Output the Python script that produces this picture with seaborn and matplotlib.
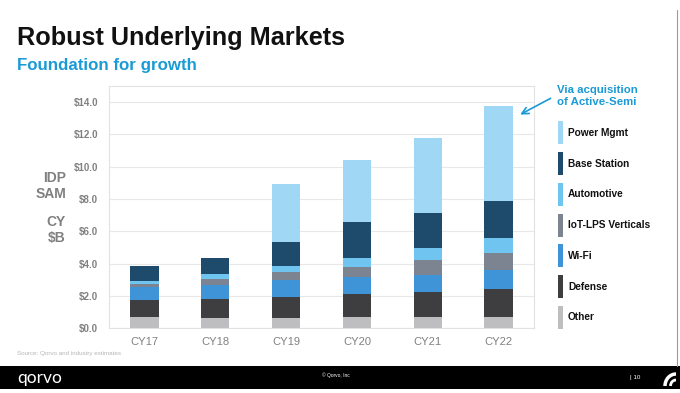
import matplotlib
matplotlib.use("Agg")
import matplotlib.pyplot as plt
import matplotlib.patches as mpatches
import pandas as pd
import seaborn as sns


years = ["CY17", "CY18", "CY19", "CY20", "CY21", "CY22"]
segments = ["Other", "Defense", "Wi-Fi", "IoT-LPS Verticals", "Automotive", "Base Station", "Power Mgmt"]

other = [0.68, 0.62, 0.64, 0.68, 0.72, 0.72]
defense = [1.07, 1.18, 1.28, 1.43, 1.51, 1.70]
wifi = [0.79, 0.88, 1.05, 1.05, 1.07, 1.19]
iot = [0.20, 0.37, 0.50, 0.66, 0.91, 1.07]
automotive = [0.17, 0.31, 0.39, 0.55, 0.75, 0.91]
base_station = [0.97, 0.98, 1.49, 2.20, 2.20, 2.32]
power_mgmt = [0.00, 0.00, 3.59, 3.86, 4.61, 5.88]

colors = {
    "Other": "#bebec0",
    "Defense": "#3e3e41",
    "Wi-Fi": "#3f94d8",
    "IoT-LPS Verticals": "#7c8492",
    "Automotive": "#6fc4f0",
    "Base Station": "#1e4b6c",
    "Power Mgmt": "#a0d7f5",
}

y_ticks = [0, 2, 4, 6, 8, 10, 12, 14]

GREY = "#808080"
BLUE = "#1a9ad6"
W, H = 680, 393


def px(x, y):
    # pixel coords (top-left origin) -> figure fraction
    return x / W, 1 - y / H


df = pd.DataFrame(
    {
        "year": years,
        "Other": other,
        "Defense": defense,
        "Wi-Fi": wifi,
        "IoT-LPS Verticals": iot,
        "Automotive": automotive,
        "Base Station": base_station,
        "Power Mgmt": power_mgmt,
    }
)
cum = df[segments].cumsum(axis=1)
cum["year"] = df["year"]

sns.set_theme(style="white")
plt.rcParams["font.family"] = ["Liberation Sans", "DejaVu Sans"]

fig = plt.figure(figsize=(6.8, 3.93), dpi=100)
ax = fig.add_axes([109 / W, 1 - 328.3 / H, (534 - 109) / W, (328.3 - 86) / H])

# stacked bars: draw cumulative totals from the top segment down
for seg in reversed(segments):
    sns.barplot(data=cum, x="year", y=seg, order=years, color=colors[seg],
                width=0.4, saturation=1, ax=ax, linewidth=0)

ax.set_xlim(-0.5, 5.5)
ax.set_ylim(0, 15)
ax.set_yticks(y_ticks)
ax.set_yticklabels([f"${v:.1f}" for v in y_ticks], fontsize=7, fontweight="bold", color=GREY)
ax.tick_params(axis="x", length=0, pad=6, labelsize=8, labelcolor=GREY)
ax.tick_params(axis="y", length=0, pad=8)
ax.set_xlabel("")
ax.set_ylabel("")
ax.grid(axis="y", color="#e8e8e8", linewidth=0.8)
ax.set_axisbelow(True)
for sp in ax.spines.values():
    sp.set_color("#e2e2e2")
    sp.set_linewidth(0.8)

# left axis caption
fig.text(*px(66, 186), "IDP\nSAM", ha="right", va="center", fontsize=10,
         fontweight="bold", color=GREY, linespacing=1.15)
fig.text(*px(66, 230), "CY\n$B", ha="right", va="center", fontsize=10,
         fontweight="bold", color=GREY, linespacing=1.15)

# titles
fig.text(*px(17, 45), "Robust Underlying Markets", ha="left", va="baseline",
         fontsize=18.2, fontweight="bold", color="#111111")
fig.text(*px(17, 70), "Foundation for growth", ha="left", va="baseline",
         fontsize=12.2, fontweight="bold", color=BLUE)

# annotation
fig.text(*px(557, 96), "Via acquisition\nof Active-Semi", ha="left", va="center",
         fontsize=8.2, fontweight="bold", color=BLUE, linespacing=1.2)
ax.annotate("", xy=(5.27, 13.15), xytext=px(553, 97), textcoords="figure fraction",
            arrowprops=dict(arrowstyle="->", color=BLUE, lw=1.2))

# legend
legend_rows = ["Power Mgmt", "Base Station", "Automotive", "IoT-LPS Verticals", "Wi-Fi", "Defense", "Other"]
for i, seg in enumerate(legend_rows):
    yc = 133 + i * 30.7
    x0, y0 = px(558, yc + 11.5)
    fig.patches.append(mpatches.Rectangle((x0, y0), 4.5 / W, 23 / H, transform=fig.transFigure,
                                          facecolor=colors[seg], edgecolor="none"))
    fig.text(*px(568, yc), seg, ha="left", va="center", fontsize=7.3,
             fontweight="bold", color="#111111")

# source
fig.text(*px(17, 353), "Source: Qorvo and industry estimates", ha="left", va="center",
         fontsize=4.5, color="#b5b5b5")

# slide frame line on the right
fig.add_artist(plt.Line2D([677 / W, 677 / W], [1 - 366 / H, 1 - 10 / H], transform=fig.transFigure,
                          color="#9a9a9a", linewidth=0.8))

# footer
x0, y0 = px(0, 389)
fig.patches.append(mpatches.Rectangle((x0, y0), 1, 23 / H, transform=fig.transFigure,
                                      facecolor="black", edgecolor="none"))
fig.text(*px(17, 378), "qorvo", ha="left", va="center", fontsize=12.5, color="white",
         family=["Lato", "DejaVu Sans"])
fig.text(*px(336, 375), "© Qorvo, Inc", ha="center", va="center", fontsize=3.5, color="white")
fig.text(*px(630, 378), "| 10", ha="left", va="center", fontsize=4.5, color="white")
cx, cy = px(676, 386)
fig.patches.append(mpatches.Arc((cx, cy), 22 / W, 24 / H, theta1=90, theta2=180,
                                transform=fig.transFigure, color="white", linewidth=2.5))
fig.patches.append(mpatches.Arc((cx, cy), 11 / W, 12 / H, theta1=90, theta2=180,
                                transform=fig.transFigure, color="white", linewidth=2))

fig.savefig("out.png", dpi=100)
